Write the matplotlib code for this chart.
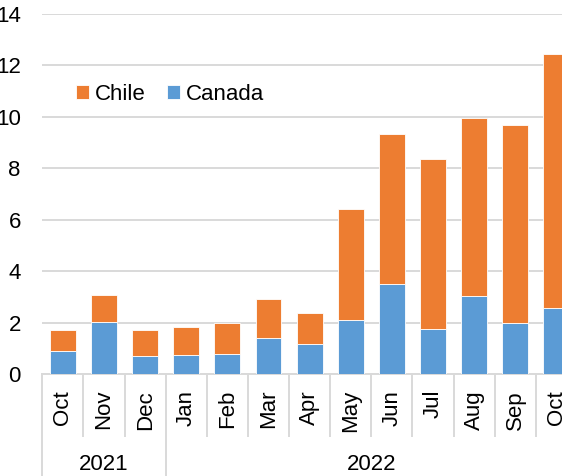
import matplotlib
matplotlib.use("Agg")
import matplotlib.pyplot as plt
from matplotlib.transforms import blended_transform_factory

plt.rcParams['font.family'] = ['Liberation Sans', 'DejaVu Sans']

months = ["Oct", "Nov", "Dec", "Jan", "Feb", "Mar", "Apr",
          "May", "Jun", "Jul", "Aug", "Sep", "Oct"]
years = ["2021", "2022"]
year_spans = [(0, 3), (3, 13)]          # month index ranges per year
canada = [0.92, 2.05, 0.70, 0.74, 0.81, 1.43, 1.20,
          2.13, 3.53, 1.77, 3.05, 1.98, 2.56]
total = [1.72, 3.07, 1.73, 1.86, 1.99, 2.93, 2.38,
         6.43, 9.35, 8.37, 9.95, 9.70, 12.44]
chile = [t - c for t, c in zip(total, canada)]

ORANGE = "#ED7D31"
BLUE = "#5B9BD5"
GRID = "#D9D9D9"
FS = 16

W, H = 562, 476
fig = plt.figure(figsize=(W / 100, H / 100), dpi=100)
x0, x1 = 42.3, 577.0
y0, y1 = 374.4, 14.0
ax = fig.add_axes([x0 / W, 1 - y0 / H, (x1 - x0) / W, (y0 - y1) / H])

x = list(range(len(months)))
b_can = ax.bar(x, canada, width=0.63, color=BLUE, edgecolor="white",
               linewidth=0.6, zorder=3, label="Canada")
b_chi = ax.bar(x, chile, bottom=canada, width=0.63, color=ORANGE,
               edgecolor="white", linewidth=0.6, zorder=3, label="Chile")

ax.set_xlim(-0.5, len(months) - 0.5)
ax.set_ylim(0, 14)
ax.set_yticks(range(0, 15, 2))
ax.yaxis.grid(True, color=GRID, linewidth=1.4, zorder=0)
ax.set_axisbelow(True)

for s in ["top", "right", "left"]:
    ax.spines[s].set_visible(False)
ax.spines["bottom"].set_color(GRID)
ax.spines["bottom"].set_linewidth(1.4)

ax.tick_params(axis="y", length=0, pad=15.5, labelsize=FS)
ax.set_xticks(x)
ax.set_xticklabels(months, rotation=90, fontsize=FS)
ax.tick_params(axis="x", length=0, pad=11.2)

# category separators below the axis
axh = y0 - y1
tr = blended_transform_factory(ax.transData, ax.transAxes)
month_bottom = -(436 - y0) / axh
year_bottom = -(490 - y0) / axh
year_starts = {s for s, _ in year_spans} | {len(months)}
for i in range(len(months) + 1):
    yb = year_bottom if i in year_starts else month_bottom
    ax.plot([i - 0.5, i - 0.5], [0, yb], transform=tr, color=GRID,
            linewidth=1.4, clip_on=False, zorder=1)

for label, (s, e) in zip(years, year_spans):
    ax.text((s + e - 1) / 2, -(465 - y0) / axh, label, transform=tr,
            ha="center", va="center", fontsize=FS)

leg = ax.legend([b_chi, b_can], ["Chile", "Canada"], ncol=2, frameon=False,
                fontsize=FS, handlelength=0.6, handleheight=0.6,
                handletextpad=0.25, columnspacing=0.95, borderpad=0,
                loc="upper left",
                bbox_to_anchor=(65 / W, 1 - 73 / H),
                bbox_transform=fig.transFigure)

fig.savefig("out.png", dpi=100)
